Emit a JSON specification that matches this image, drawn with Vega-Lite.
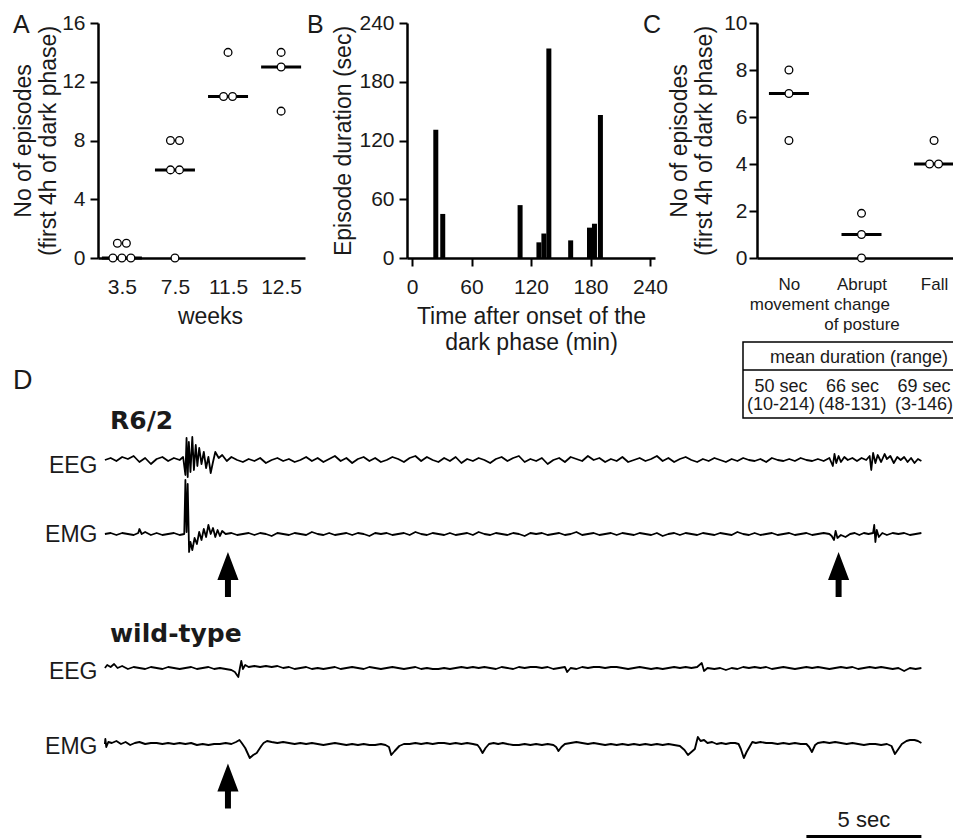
{
"$schema": "https://vega.github.io/schema/vega-lite/v6.json",
"autosize": {"type": "pad"},
"padding": {"left": 11, "top": 12, "right": 0, "bottom": 0},
"background": "white",
"config": {
  "font": "Liberation Sans",
  "view": {"stroke": null},
  "axis": {"grid": false, "domainColor": "black", "domainWidth": 2.5, "tickColor": "black", "tickWidth": 2, "tickSize": 8, "labelFontSize": 21, "labelColor": "#1a1a1a", "labelFont": "Liberation Sans", "titleFont": "Liberation Sans", "titleFontSize": 23, "titleFontWeight": "normal", "titleColor": "#1a1a1a", "labelOverlap": false, "labelFlush": false},
  "title": {"font": "Liberation Sans", "color": "#1a1a1a", "fontWeight": "normal"}
},
"datasets": {
  "dataA": [{"week":"3.5","n":0},{"week":"3.5","n":0},{"week":"3.5","n":0},{"week":"3.5","n":1},{"week":"3.5","n":1},{"week":"7.5","n":0},{"week":"7.5","n":6},{"week":"7.5","n":6},{"week":"7.5","n":8},{"week":"7.5","n":8},{"week":"11.5","n":11},{"week":"11.5","n":11},{"week":"11.5","n":14},{"week":"12.5","n":10},{"week":"12.5","n":13},{"week":"12.5","n":14}],
  "dataB": [{"t":24,"dur":131},{"t":31,"dur":45},{"t":109,"dur":54},{"t":128,"dur":16},{"t":133,"dur":25},{"t":138,"dur":214},{"t":160,"dur":18},{"t":179,"dur":31},{"t":184,"dur":35},{"t":190,"dur":146}],
  "dataC": [{"cat":"No movement","n":8},{"cat":"No movement","n":7},{"cat":"No movement","n":5},{"cat":"Abrupt change of posture","n":1.9},{"cat":"Abrupt change of posture","n":1},{"cat":"Abrupt change of posture","n":0},{"cat":"Fall","n":5},{"cat":"Fall","n":4},{"cat":"Fall","n":4}],
  "table": [{"cat":"No movement","mean":"50 sec","range":"(10-214)"},{"cat":"Abrupt change of posture","mean":"66 sec","range":"(48-131)"},{"cat":"Fall","mean":"69 sec","range":"(3-146)"}],
  "arrows": [{"trace":"R6/2","t":5.35},{"trace":"R6/2","t":31.9},{"trace":"wild-type","t":5.35}],
  "scalebar": [{"start":30.5,"end":35.5,"label":"5 sec"}],
  "eeg1": [{"t":0,"v":0},{"t":0.25,"v":2},{"t":0.5,"v":-1},{"t":0.75,"v":3},{"t":1,"v":1},{"t":1.25,"v":4},{"t":1.5,"v":-2},{"t":1.75,"v":2},{"t":2,"v":-4},{"t":2.25,"v":1},{"t":2.5,"v":3},{"t":2.75,"v":-1},{"t":3,"v":2},{"t":3.25,"v":0},{"t":3.4,"v":3},{"t":3.5,"v":-15},{"t":3.55,"v":22},{"t":3.6,"v":-17},{"t":3.65,"v":18},{"t":3.72,"v":-12},{"t":3.8,"v":23},{"t":3.87,"v":-10},{"t":3.95,"v":15},{"t":4.02,"v":-6},{"t":4.1,"v":12},{"t":4.2,"v":-4},{"t":4.3,"v":8},{"t":4.4,"v":-8},{"t":4.5,"v":3},{"t":4.6,"v":-13},{"t":4.7,"v":-2},{"t":4.8,"v":8},{"t":4.95,"v":2},{"t":5.1,"v":5},{"t":5.3,"v":-1},{"t":5.5,"v":3},{"t":5.75,"v":0},{"t":6,"v":-2},{"t":6.25,"v":1},{"t":6.5,"v":-1},{"t":6.75,"v":2},{"t":7,"v":-3},{"t":7.25,"v":0},{"t":7.5,"v":2},{"t":7.75,"v":-1},{"t":8,"v":1},{"t":8.25,"v":-2},{"t":8.5,"v":0},{"t":8.75,"v":3},{"t":9,"v":-1},{"t":9.25,"v":2},{"t":9.5,"v":-2},{"t":9.75,"v":1},{"t":10,"v":4},{"t":10.25,"v":-1},{"t":10.5,"v":2},{"t":10.75,"v":-3},{"t":11,"v":1},{"t":11.25,"v":3},{"t":11.5,"v":-1},{"t":11.75,"v":2},{"t":12,"v":-2},{"t":12.25,"v":0},{"t":12.5,"v":3},{"t":12.75,"v":1},{"t":13,"v":-2},{"t":13.25,"v":2},{"t":13.5,"v":4},{"t":13.75,"v":-1},{"t":14,"v":3},{"t":14.25,"v":0},{"t":14.5,"v":-2},{"t":14.75,"v":2},{"t":15,"v":-1},{"t":15.25,"v":3},{"t":15.5,"v":-3},{"t":15.75,"v":1},{"t":16,"v":-1},{"t":16.25,"v":2},{"t":16.5,"v":0},{"t":16.75,"v":-3},{"t":17,"v":1},{"t":17.25,"v":3},{"t":17.5,"v":-1},{"t":17.75,"v":2},{"t":18,"v":4},{"t":18.25,"v":-2},{"t":18.5,"v":1},{"t":18.75,"v":-1},{"t":19,"v":2},{"t":19.25,"v":-4},{"t":19.5,"v":0},{"t":19.75,"v":2},{"t":20,"v":-2},{"t":20.25,"v":3},{"t":20.5,"v":1},{"t":20.75,"v":-1},{"t":21,"v":4},{"t":21.25,"v":0},{"t":21.5,"v":2},{"t":21.75,"v":-2},{"t":22,"v":1},{"t":22.25,"v":-1},{"t":22.5,"v":3},{"t":22.75,"v":-2},{"t":23,"v":0},{"t":23.25,"v":2},{"t":23.5,"v":-1},{"t":23.75,"v":1},{"t":24,"v":4},{"t":24.25,"v":-1},{"t":24.5,"v":2},{"t":24.75,"v":-2},{"t":25,"v":1},{"t":25.25,"v":3},{"t":25.5,"v":0},{"t":25.75,"v":-2},{"t":26,"v":1},{"t":26.25,"v":-1},{"t":26.5,"v":2},{"t":26.75,"v":0},{"t":27,"v":-2},{"t":27.25,"v":1},{"t":27.5,"v":-1},{"t":27.75,"v":2},{"t":28,"v":0},{"t":28.25,"v":-1},{"t":28.5,"v":1},{"t":28.75,"v":-2},{"t":29,"v":2},{"t":29.25,"v":0},{"t":29.5,"v":-1},{"t":29.75,"v":1},{"t":30,"v":-1},{"t":30.25,"v":2},{"t":30.5,"v":0},{"t":30.75,"v":-1},{"t":31,"v":1},{"t":31.25,"v":-1},{"t":31.5,"v":2},{"t":31.65,"v":-6},{"t":31.72,"v":6},{"t":31.8,"v":-3},{"t":31.9,"v":4},{"t":32,"v":-2},{"t":32.15,"v":3},{"t":32.3,"v":0},{"t":32.5,"v":2},{"t":32.7,"v":-1},{"t":32.9,"v":2},{"t":33.1,"v":0},{"t":33.25,"v":4},{"t":33.32,"v":-10},{"t":33.4,"v":7},{"t":33.5,"v":-3},{"t":33.6,"v":5},{"t":33.75,"v":-2},{"t":33.9,"v":6},{"t":34,"v":1},{"t":34.15,"v":4},{"t":34.3,"v":-3},{"t":34.45,"v":3},{"t":34.6,"v":0},{"t":34.75,"v":3},{"t":34.9,"v":-2},{"t":35.05,"v":2},{"t":35.2,"v":-3},{"t":35.35,"v":1},{"t":35.5,"v":-1}],
  "emg1": [{"t":0,"v":0},{"t":0.25,"v":1},{"t":0.5,"v":-1},{"t":0.75,"v":1},{"t":1,"v":0},{"t":1.25,"v":-1},{"t":1.45,"v":1},{"t":1.5,"v":5},{"t":1.6,"v":0},{"t":1.75,"v":2},{"t":2,"v":-1},{"t":2.25,"v":1},{"t":2.5,"v":-1},{"t":2.75,"v":0},{"t":3,"v":1},{"t":3.25,"v":-1},{"t":3.45,"v":0},{"t":3.5,"v":54},{"t":3.55,"v":2},{"t":3.6,"v":50},{"t":3.66,"v":-18},{"t":3.72,"v":-8},{"t":3.8,"v":-16},{"t":3.9,"v":-4},{"t":4,"v":-10},{"t":4.1,"v":2},{"t":4.2,"v":-6},{"t":4.3,"v":5},{"t":4.4,"v":-3},{"t":4.5,"v":9},{"t":4.6,"v":0},{"t":4.7,"v":6},{"t":4.8,"v":-3},{"t":4.9,"v":4},{"t":5,"v":-2},{"t":5.1,"v":3},{"t":5.25,"v":0},{"t":5.5,"v":1},{"t":5.75,"v":-1},{"t":6,"v":0},{"t":6.25,"v":1},{"t":6.5,"v":-1},{"t":6.75,"v":1},{"t":7,"v":0},{"t":7.25,"v":-2},{"t":7.5,"v":1},{"t":7.75,"v":0},{"t":8,"v":-1},{"t":8.25,"v":1},{"t":8.5,"v":0},{"t":8.75,"v":-1},{"t":9,"v":2},{"t":9.25,"v":0},{"t":9.5,"v":-1},{"t":9.75,"v":1},{"t":10,"v":-1},{"t":10.25,"v":0},{"t":10.5,"v":1},{"t":10.75,"v":-1},{"t":11,"v":1},{"t":11.25,"v":0},{"t":11.5,"v":-2},{"t":11.75,"v":1},{"t":12,"v":0},{"t":12.25,"v":1},{"t":12.5,"v":-1},{"t":12.75,"v":0},{"t":13,"v":1},{"t":13.25,"v":-1},{"t":13.5,"v":2},{"t":13.75,"v":0},{"t":14,"v":-1},{"t":14.25,"v":1},{"t":14.5,"v":0},{"t":14.75,"v":-1},{"t":15,"v":1},{"t":15.25,"v":-1},{"t":15.5,"v":0},{"t":15.75,"v":1},{"t":16,"v":-1},{"t":16.25,"v":2},{"t":16.5,"v":0},{"t":16.75,"v":-1},{"t":17,"v":1},{"t":17.25,"v":0},{"t":17.5,"v":-1},{"t":17.75,"v":1},{"t":18,"v":0},{"t":18.25,"v":-2},{"t":18.5,"v":1},{"t":18.75,"v":0},{"t":19,"v":1},{"t":19.25,"v":-1},{"t":19.5,"v":0},{"t":19.75,"v":1},{"t":20,"v":-1},{"t":20.25,"v":0},{"t":20.5,"v":2},{"t":20.75,"v":-1},{"t":21,"v":0},{"t":21.25,"v":1},{"t":21.5,"v":-1},{"t":21.75,"v":0},{"t":22,"v":1},{"t":22.25,"v":-1},{"t":22.5,"v":1},{"t":22.75,"v":0},{"t":23,"v":-1},{"t":23.25,"v":1},{"t":23.5,"v":0},{"t":23.75,"v":-1},{"t":24,"v":1},{"t":24.25,"v":-2},{"t":24.5,"v":0},{"t":24.75,"v":1},{"t":25,"v":-1},{"t":25.25,"v":1},{"t":25.5,"v":0},{"t":25.75,"v":-1},{"t":26,"v":1},{"t":26.25,"v":0},{"t":26.5,"v":-1},{"t":26.75,"v":1},{"t":27,"v":0},{"t":27.25,"v":-1},{"t":27.5,"v":2},{"t":27.75,"v":0},{"t":28,"v":-1},{"t":28.25,"v":1},{"t":28.5,"v":-1},{"t":28.75,"v":0},{"t":29,"v":1},{"t":29.25,"v":-1},{"t":29.5,"v":0},{"t":29.75,"v":1},{"t":30,"v":-1},{"t":30.25,"v":0},{"t":30.5,"v":1},{"t":30.75,"v":-1},{"t":31,"v":0},{"t":31.25,"v":1},{"t":31.5,"v":0},{"t":31.6,"v":-2},{"t":31.7,"v":-6},{"t":31.77,"v":3},{"t":31.85,"v":-4},{"t":32,"v":-1},{"t":32.2,"v":-3},{"t":32.4,"v":0},{"t":32.6,"v":1},{"t":32.8,"v":-1},{"t":33,"v":1},{"t":33.2,"v":0},{"t":33.4,"v":1},{"t":33.45,"v":9},{"t":33.5,"v":-8},{"t":33.56,"v":4},{"t":33.65,"v":-3},{"t":33.8,"v":1},{"t":34,"v":-1},{"t":34.25,"v":1},{"t":34.5,"v":0},{"t":34.75,"v":1},{"t":35,"v":-1},{"t":35.25,"v":0},{"t":35.5,"v":1}],
  "eeg2": [{"t":0,"v":0},{"t":0.1,"v":3},{"t":0.25,"v":1},{"t":0.4,"v":4},{"t":0.55,"v":0},{"t":0.75,"v":2},{"t":1,"v":-1},{"t":1.25,"v":1},{"t":1.5,"v":0},{"t":1.75,"v":-1},{"t":2,"v":1},{"t":2.25,"v":0},{"t":2.5,"v":-1},{"t":2.75,"v":1},{"t":3,"v":0},{"t":3.25,"v":-1},{"t":3.5,"v":0},{"t":3.75,"v":1},{"t":4,"v":-1},{"t":4.25,"v":0},{"t":4.5,"v":1},{"t":4.75,"v":-1},{"t":5,"v":0},{"t":5.25,"v":-1},{"t":5.5,"v":-2},{"t":5.65,"v":-4},{"t":5.8,"v":-9},{"t":5.87,"v":0},{"t":5.93,"v":7},{"t":6,"v":-1},{"t":6.1,"v":3},{"t":6.25,"v":1},{"t":6.5,"v":2},{"t":6.75,"v":1},{"t":7,"v":2},{"t":7.25,"v":1},{"t":7.5,"v":2},{"t":7.75,"v":0},{"t":8,"v":1},{"t":8.25,"v":-1},{"t":8.5,"v":0},{"t":8.75,"v":1},{"t":9,"v":-1},{"t":9.25,"v":0},{"t":9.5,"v":-1},{"t":9.75,"v":0},{"t":10,"v":1},{"t":10.25,"v":-1},{"t":10.5,"v":0},{"t":10.75,"v":1},{"t":11,"v":0},{"t":11.25,"v":-1},{"t":11.5,"v":1},{"t":11.75,"v":0},{"t":12,"v":-1},{"t":12.25,"v":0},{"t":12.5,"v":1},{"t":12.75,"v":0},{"t":13,"v":-1},{"t":13.25,"v":0},{"t":13.5,"v":1},{"t":13.75,"v":-1},{"t":14,"v":0},{"t":14.25,"v":-1},{"t":14.5,"v":-1},{"t":14.75,"v":0},{"t":15,"v":-1},{"t":15.25,"v":0},{"t":15.5,"v":1},{"t":15.75,"v":0},{"t":16,"v":1},{"t":16.25,"v":0},{"t":16.5,"v":1},{"t":16.75,"v":0},{"t":17,"v":-1},{"t":17.25,"v":1},{"t":17.5,"v":0},{"t":17.75,"v":-1},{"t":18,"v":1},{"t":18.25,"v":0},{"t":18.5,"v":1},{"t":18.75,"v":1},{"t":19,"v":0},{"t":19.25,"v":1},{"t":19.5,"v":-1},{"t":19.75,"v":0},{"t":20,"v":1},{"t":20.1,"v":-4},{"t":20.25,"v":0},{"t":20.5,"v":-1},{"t":20.75,"v":1},{"t":21,"v":0},{"t":21.25,"v":1},{"t":21.5,"v":1},{"t":21.75,"v":0},{"t":22,"v":1},{"t":22.25,"v":1},{"t":22.5,"v":0},{"t":22.75,"v":-1},{"t":23,"v":0},{"t":23.25,"v":1},{"t":23.5,"v":0},{"t":23.75,"v":-1},{"t":24,"v":0},{"t":24.25,"v":-1},{"t":24.5,"v":0},{"t":24.75,"v":1},{"t":25,"v":0},{"t":25.25,"v":1},{"t":25.5,"v":0},{"t":25.75,"v":1},{"t":25.95,"v":5},{"t":26.05,"v":-3},{"t":26.2,"v":0},{"t":26.5,"v":-1},{"t":26.75,"v":0},{"t":27,"v":-2},{"t":27.25,"v":0},{"t":27.5,"v":-1},{"t":27.75,"v":1},{"t":28,"v":0},{"t":28.25,"v":1},{"t":28.5,"v":0},{"t":28.75,"v":1},{"t":29,"v":-1},{"t":29.25,"v":0},{"t":29.5,"v":1},{"t":29.75,"v":0},{"t":30,"v":-1},{"t":30.25,"v":0},{"t":30.5,"v":1},{"t":30.75,"v":0},{"t":31,"v":1},{"t":31.25,"v":0},{"t":31.5,"v":-1},{"t":31.75,"v":0},{"t":32,"v":1},{"t":32.25,"v":0},{"t":32.5,"v":1},{"t":32.75,"v":-1},{"t":33,"v":0},{"t":33.25,"v":1},{"t":33.5,"v":0},{"t":33.75,"v":1},{"t":34,"v":0},{"t":34.25,"v":-1},{"t":34.5,"v":0},{"t":34.75,"v":-3},{"t":35,"v":0},{"t":35.25,"v":-1},{"t":35.5,"v":0}],
  "emg2": [{"t":0,"v":0},{"t":0.02,"v":5},{"t":0.06,"v":-3},{"t":0.15,"v":2},{"t":0.3,"v":1},{"t":0.5,"v":3},{"t":0.7,"v":0},{"t":0.9,"v":2},{"t":1.1,"v":-1},{"t":1.3,"v":1},{"t":1.5,"v":2},{"t":1.75,"v":0},{"t":2,"v":1},{"t":2.25,"v":1},{"t":2.5,"v":0},{"t":2.75,"v":1},{"t":3,"v":0},{"t":3.25,"v":1},{"t":3.5,"v":0},{"t":3.75,"v":1},{"t":4,"v":-1},{"t":4.25,"v":0},{"t":4.5,"v":-1},{"t":4.75,"v":0},{"t":5,"v":0},{"t":5.25,"v":1},{"t":5.5,"v":0},{"t":5.7,"v":2},{"t":5.85,"v":4},{"t":5.95,"v":1},{"t":6.1,"v":-4},{"t":6.3,"v":-14},{"t":6.45,"v":-11},{"t":6.6,"v":-9},{"t":6.8,"v":-2},{"t":6.9,"v":1},{"t":7.05,"v":3},{"t":7.25,"v":2},{"t":7.5,"v":1},{"t":7.75,"v":2},{"t":8,"v":1},{"t":8.25,"v":0},{"t":8.5,"v":1},{"t":8.75,"v":0},{"t":9,"v":1},{"t":9.25,"v":0},{"t":9.5,"v":-1},{"t":9.75,"v":0},{"t":10,"v":1},{"t":10.25,"v":0},{"t":10.5,"v":-1},{"t":10.75,"v":0},{"t":11,"v":-1},{"t":11.25,"v":0},{"t":11.5,"v":-1},{"t":11.75,"v":-1},{"t":12,"v":0},{"t":12.2,"v":-1},{"t":12.35,"v":-3},{"t":12.45,"v":-11},{"t":12.6,"v":-7},{"t":12.8,"v":-2},{"t":13,"v":0},{"t":13.25,"v":0},{"t":13.5,"v":1},{"t":13.75,"v":0},{"t":14,"v":1},{"t":14.25,"v":0},{"t":14.5,"v":1},{"t":14.75,"v":1},{"t":15,"v":0},{"t":15.25,"v":1},{"t":15.5,"v":0},{"t":15.75,"v":1},{"t":16,"v":0},{"t":16.2,"v":-1},{"t":16.3,"v":-4},{"t":16.42,"v":-9},{"t":16.55,"v":-4},{"t":16.7,"v":0},{"t":16.9,"v":1},{"t":17.1,"v":0},{"t":17.3,"v":1},{"t":17.5,"v":0},{"t":17.75,"v":-1},{"t":18,"v":-1},{"t":18.25,"v":0},{"t":18.5,"v":-1},{"t":18.75,"v":0},{"t":19,"v":-1},{"t":19.25,"v":0},{"t":19.5,"v":-1},{"t":19.62,"v":-3},{"t":19.72,"v":-7},{"t":19.85,"v":-3},{"t":20,"v":0},{"t":20.25,"v":1},{"t":20.5,"v":2},{"t":20.75,"v":1},{"t":21,"v":0},{"t":21.25,"v":1},{"t":21.5,"v":0},{"t":21.75,"v":-1},{"t":22,"v":0},{"t":22.25,"v":-1},{"t":22.5,"v":0},{"t":22.75,"v":-1},{"t":23,"v":0},{"t":23.25,"v":-1},{"t":23.5,"v":0},{"t":23.75,"v":-1},{"t":24,"v":0},{"t":24.25,"v":-1},{"t":24.5,"v":0},{"t":24.75,"v":-1},{"t":25,"v":-2},{"t":25.2,"v":-6},{"t":25.35,"v":-11},{"t":25.5,"v":-8},{"t":25.65,"v":-5},{"t":25.78,"v":7},{"t":25.9,"v":3},{"t":26.05,"v":4},{"t":26.2,"v":1},{"t":26.4,"v":2},{"t":26.6,"v":0},{"t":26.8,"v":1},{"t":27,"v":0},{"t":27.2,"v":1},{"t":27.4,"v":1},{"t":27.55,"v":0},{"t":27.65,"v":-5},{"t":27.78,"v":-14},{"t":27.9,"v":-8},{"t":28.05,"v":-2},{"t":28.15,"v":2},{"t":28.3,"v":1},{"t":28.5,"v":2},{"t":28.75,"v":1},{"t":29,"v":1},{"t":29.25,"v":0},{"t":29.5,"v":1},{"t":29.75,"v":0},{"t":30,"v":1},{"t":30.25,"v":0},{"t":30.5,"v":0},{"t":30.62,"v":-3},{"t":30.74,"v":-8},{"t":30.88,"v":-1},{"t":31,"v":1},{"t":31.25,"v":2},{"t":31.5,"v":1},{"t":31.75,"v":2},{"t":32,"v":1},{"t":32.25,"v":0},{"t":32.5,"v":1},{"t":32.75,"v":0},{"t":33,"v":-1},{"t":33.25,"v":0},{"t":33.5,"v":0},{"t":33.75,"v":-1},{"t":34,"v":0},{"t":34.2,"v":-2},{"t":34.35,"v":-10},{"t":34.5,"v":-5},{"t":34.65,"v":0},{"t":34.85,"v":3},{"t":35,"v":4},{"t":35.2,"v":4},{"t":35.35,"v":3},{"t":35.5,"v":1}]
},
"columns": 3,
"spacing": {"row": 0, "column": 102},
"bounds": "flush",
"align": "each",
"concat": [
  {
    "width": 207, "height": 235,
    "title": {"text": "A", "anchor": "start", "frame": "group", "dx": -85, "offset": -46, "baseline": "alphabetic", "fontSize": 25, "fontWeight": "normal"},
    "data": {"name": "dataA"},
    "layer": [
      {
        "transform": [{"aggregate": [{"op": "median", "field": "n", "as": "med"}], "groupby": ["week"]}],
        "mark": {"type": "tick", "color": "black", "size": 40, "thickness": 3, "opacity": 1},
        "encoding": {
          "x": {"field": "week", "type": "ordinal", "scale": {"type": "point", "padding": 0.45, "domain": ["3.5", "7.5", "11.5", "12.5"]}, "axis": {"title": "weeks", "ticks": false, "tickSize": 0, "labelPadding": 18, "labelAngle": 0, "titleX": 112, "titleY": 65, "titleAlign": "center", "titleBaseline": "alphabetic"}},
          "y": {"field": "med", "type": "quantitative", "scale": {"domain": [0, 16], "nice": false}, "axis": {"values": [0, 2, 4, 6, 8, 10, 12, 14, 16], "labelExpr": "datum.value % 4 === 0 ? datum.label : ''", "labelPadding": 5, "title": ["No of episodes", "(first 4h of dark phase)"], "titleAngle": 270, "titleX": -75, "titleY": 117.5, "titleAlign": "center", "titleBaseline": "middle", "titleLineHeight": 25}}
        }
      },
      {
        "transform": [
          {"window": [{"op": "row_number", "as": "rk"}, {"op": "count", "as": "cnt"}], "groupby": ["week", "n"], "frame": [null, null]},
          {"calculate": "datum.rk - (datum.cnt + 1) / 2", "as": "off"}
        ],
        "mark": {"type": "circle", "fill": "white", "stroke": "black", "strokeWidth": 1.3, "size": 60, "opacity": 1},
        "encoding": {
          "x": {"field": "week", "type": "ordinal"},
          "xOffset": {"field": "off", "type": "quantitative", "scale": {"domain": [-1, 1], "range": [-9, 9]}},
          "y": {"field": "n", "type": "quantitative"}
        }
      }
    ]
  },
  {
    "width": 248, "height": 235,
    "title": {"text": "B", "anchor": "start", "frame": "group", "dx": -100, "offset": -46, "baseline": "alphabetic", "fontSize": 25, "fontWeight": "normal"},
    "data": {"name": "dataB"},
    "mark": {"type": "bar", "color": "black", "size": 5, "orient": "vertical"},
    "encoding": {
      "x": {"field": "t", "type": "quantitative", "scale": {"domain": [0, 240], "nice": false}, "axis": {"values": [0, 60, 120, 180, 240], "labelPadding": 10, "title": ["Time after onset of the", "dark phase (min)"], "titleX": 124, "titleY": 65, "titleAlign": "center", "titleBaseline": "alphabetic", "titleLineHeight": 26}},
      "y": {"field": "dur", "type": "quantitative", "scale": {"domain": [0, 240], "nice": false}, "axis": {"values": [0, 60, 120, 180, 240], "labelPadding": 5, "title": "Episode duration (sec)", "titleAngle": 270, "titleX": -64, "titleY": 117.5, "titleAlign": "center", "titleBaseline": "middle"}}
    }
  },
  {
    "width": 209, "height": 235,
    "title": {"text": "C", "anchor": "start", "frame": "group", "dx": -114, "offset": -46, "baseline": "alphabetic", "fontSize": 25, "fontWeight": "normal"},
    "data": {"name": "dataC"},
    "layer": [
      {
        "transform": [{"aggregate": [{"op": "median", "field": "n", "as": "med"}], "groupby": ["cat"]}],
        "mark": {"type": "tick", "color": "black", "size": 40, "thickness": 3, "opacity": 1},
        "encoding": {
          "x": {"field": "cat", "type": "nominal", "scale": {"type": "point", "padding": 0.44, "domain": ["No movement", "Abrupt change of posture", "Fall"]}, "axis": {"title": null, "ticks": false, "tickSize": 0, "labelPadding": 18, "labelAngle": 0, "labelFontSize": 17, "labelLineHeight": 20, "labelExpr": "datum.value == 'No movement' ? ['No', 'movement'] : datum.value == 'Abrupt change of posture' ? ['Abrupt', 'change', 'of posture'] : datum.value"}},
          "y": {"field": "med", "type": "quantitative", "scale": {"domain": [0, 10], "nice": false}, "axis": {"values": [0, 2, 4, 6, 8, 10], "labelPadding": 2, "title": ["No of episodes", "(first 4h of dark phase)"], "titleAngle": 270, "titleX": -78, "titleY": 117.5, "titleAlign": "center", "titleBaseline": "middle", "titleLineHeight": 25}}
        }
      },
      {
        "transform": [
          {"window": [{"op": "row_number", "as": "rk"}, {"op": "count", "as": "cnt"}], "groupby": ["cat", "n"], "frame": [null, null]},
          {"calculate": "datum.rk - (datum.cnt + 1) / 2", "as": "off"}
        ],
        "mark": {"type": "circle", "fill": "white", "stroke": "black", "strokeWidth": 1.3, "size": 60, "opacity": 1},
        "encoding": {
          "x": {"field": "cat", "type": "nominal"},
          "xOffset": {"field": "off", "type": "quantitative", "scale": {"domain": [-1, 1], "range": [-10, 10]}},
          "y": {"field": "n", "type": "quantitative"}
        }
      }
    ]
  },
  {
    "width": 1, "height": 1,
    "title": {"text": "D", "anchor": "start", "frame": "group", "dx": -85, "offset": -158, "baseline": "alphabetic", "fontSize": 27, "fontWeight": "normal"},
    "data": {"values": []},
    "mark": "point"
  },
  {"width": 1, "height": 1, "data": {"values": []}, "mark": "point"},
  {
    "width": 209, "height": 160,
    "data": {"name": "table"},
    "resolve": {"scale": {"x": "independent"}},
    "layer": [
      {
        "data": {"values": [{}]},
        "mark": {"type": "rect", "fill": "white", "fillOpacity": 0, "stroke": "black", "strokeWidth": 1.5},
        "encoding": {
          "x": {"datum": -0.067, "type": "quantitative", "scale": {"domain": [0, 1], "nice": false, "zero": false}, "axis": null},
          "x2": {"datum": 1.2},
          "y": {"datum": 0, "type": "quantitative", "scale": {"domain": [-4.42, 4], "reverse": true, "nice": false, "zero": false}, "axis": null},
          "y2": {"datum": 4}
        }
      },
      {
        "data": {"values": [{}]},
        "mark": {"type": "rule", "color": "black", "strokeWidth": 1.5},
        "encoding": {
          "x": {"datum": -0.067, "type": "quantitative", "scale": {"domain": [0, 1], "nice": false, "zero": false}, "axis": null},
          "x2": {"datum": 1.2},
          "y": {"datum": 1.47, "type": "quantitative"}
        }
      },
      {
        "data": {"values": [{}]},
        "mark": {"type": "text", "text": "mean duration (range)", "fontSize": 18, "baseline": "middle", "align": "center", "color": "#1a1a1a"},
        "encoding": {
          "x": {"datum": 0.488, "type": "quantitative", "scale": {"domain": [0, 1], "nice": false, "zero": false}, "axis": null},
          "y": {"datum": 0.84, "type": "quantitative"}
        }
      },
      {
        "mark": {"type": "text", "fontSize": 18, "baseline": "middle", "align": "center", "color": "#1a1a1a"},
        "encoding": {
          "x": {"field": "cat", "type": "nominal", "scale": {"type": "point", "domain": ["No movement", "Abrupt change of posture", "Fall"], "padding": 0.4615, "align": 0.364}, "axis": null},
          "y": {"datum": 2.37, "type": "quantitative"},
          "text": {"field": "mean"}
        }
      },
      {
        "mark": {"type": "text", "fontSize": 18, "baseline": "middle", "align": "center", "color": "#1a1a1a"},
        "encoding": {
          "x": {"field": "cat", "type": "nominal", "scale": {"type": "point", "domain": ["No movement", "Abrupt change of posture", "Fall"], "padding": 0.4615, "align": 0.364}, "axis": null},
          "y": {"datum": 3.32, "type": "quantitative"},
          "text": {"field": "range"}
        }
      }
    ]
  },
  {
    "width": 207, "height": 79,
    "title": {"text": "R6/2", "anchor": "start", "frame": "group", "dx": 12, "offset": -36, "baseline": "alphabetic", "fontSize": 25, "fontWeight": "bold", "font": "DejaVu Sans"},
    "data": {"name": "eeg1"},
    "mark": {"type": "line", "color": "black", "strokeWidth": 1.8, "clip": false, "strokeJoin": "round"},
    "encoding": {
      "x": {"field": "t", "type": "quantitative", "scale": {"domain": [-0.3, 8.7], "nice": false, "zero": false}, "axis": null},
      "y": {"field": "v", "type": "quantitative", "scale": {"domain": [-37, 42], "nice": false, "zero": false}, "axis": {"title": "EEG", "domain": false, "ticks": false, "labels": false, "titleAngle": 0, "titleAlign": "right", "titleBaseline": "middle", "titleX": -1, "titleY": 47}}
    }
  },
  {"width": 1, "height": 1, "data": {"values": []}, "mark": "point"},
  {"width": 1, "height": 1, "data": {"values": []}, "mark": "point"},
  {
    "width": 207, "height": 148,
    "layer": [
      {
        "data": {"name": "emg1"},
        "mark": {"type": "line", "color": "black", "strokeWidth": 1.8, "clip": false, "strokeJoin": "round"},
        "encoding": {
          "x": {"field": "t", "type": "quantitative", "scale": {"domain": [-0.3, 8.7], "nice": false, "zero": false}, "axis": null},
          "y": {"field": "v", "type": "quantitative", "scale": {"domain": [-111, 37], "nice": false, "zero": false}, "axis": {"title": "EMG", "domain": false, "ticks": false, "labels": false, "titleAngle": 0, "titleAlign": "right", "titleBaseline": "middle", "titleX": -1, "titleY": 37}}
        }
      },
      {
        "data": {"name": "arrows"},
        "transform": [{"filter": "datum.trace == 'R6/2'"}],
        "mark": {"type": "point", "shape": "M0,-1L0.47,0.24L0.133,0.24L0.133,1L-0.133,1L-0.133,0.24L-0.47,0.24Z", "size": 2025, "filled": true, "color": "black", "opacity": 1, "strokeWidth": 0, "clip": false},
        "encoding": {
          "x": {"field": "t", "type": "quantitative"},
          "y": {"datum": -40.5, "type": "quantitative"}
        }
      }
    ]
  },
  {"width": 1, "height": 1, "data": {"values": []}, "mark": "point"},
  {"width": 1, "height": 1, "data": {"values": []}, "mark": "point"},
  {
    "width": 207, "height": 60,
    "title": {"text": "wild-type", "anchor": "start", "frame": "group", "dx": 12, "offset": -22, "baseline": "alphabetic", "fontSize": 25, "fontWeight": "bold", "font": "DejaVu Sans"},
    "data": {"name": "eeg2"},
    "mark": {"type": "line", "color": "black", "strokeWidth": 1.8, "clip": false, "strokeJoin": "round"},
    "encoding": {
      "x": {"field": "t", "type": "quantitative", "scale": {"domain": [-0.3, 8.7], "nice": false, "zero": false}, "axis": null},
      "y": {"field": "v", "type": "quantitative", "scale": {"domain": [-37, 23], "nice": false, "zero": false}, "axis": {"title": "EEG", "domain": false, "ticks": false, "labels": false, "titleAngle": 0, "titleAlign": "right", "titleBaseline": "middle", "titleX": -1, "titleY": 26}}
    }
  },
  {"width": 1, "height": 1, "data": {"values": []}, "mark": "point"},
  {"width": 1, "height": 1, "data": {"values": []}, "mark": "point"},
  {
    "width": 207, "height": 134,
    "layer": [
      {
        "data": {"name": "emg2"},
        "mark": {"type": "line", "color": "black", "strokeWidth": 1.9, "clip": false, "strokeJoin": "round"},
        "encoding": {
          "x": {"field": "t", "type": "quantitative", "scale": {"domain": [-0.3, 8.7], "nice": false, "zero": false}, "axis": null},
          "y": {"field": "v", "type": "quantitative", "scale": {"domain": [-95, 39], "nice": false, "zero": false}, "axis": {"title": "EMG", "domain": false, "ticks": false, "labels": false, "titleAngle": 0, "titleAlign": "right", "titleBaseline": "middle", "titleX": -1, "titleY": 41}}
        }
      },
      {
        "data": {"name": "arrows"},
        "transform": [{"filter": "datum.trace == 'wild-type'"}],
        "mark": {"type": "point", "shape": "M0,-1L0.47,0.24L0.133,0.24L0.133,1L-0.133,1L-0.133,0.24L-0.47,0.24Z", "size": 2025, "filled": true, "color": "black", "opacity": 1, "strokeWidth": 0, "clip": false},
        "encoding": {
          "x": {"field": "t", "type": "quantitative"},
          "y": {"datum": -42, "type": "quantitative"}
        }
      },
      {
        "data": {"name": "scalebar"},
        "mark": {"type": "rule", "color": "black", "strokeWidth": 3, "clip": false},
        "encoding": {
          "x": {"field": "start", "type": "quantitative"},
          "x2": {"field": "end"},
          "y": {"datum": -92.5, "type": "quantitative"}
        }
      },
      {
        "data": {"name": "scalebar"},
        "mark": {"type": "text", "fontSize": 22, "baseline": "alphabetic", "align": "center", "color": "#1a1a1a", "clip": false},
        "encoding": {
          "x": {"datum": 33, "type": "quantitative"},
          "y": {"datum": -83, "type": "quantitative"},
          "text": {"field": "label"}
        }
      }
    ]
  }
]
}
